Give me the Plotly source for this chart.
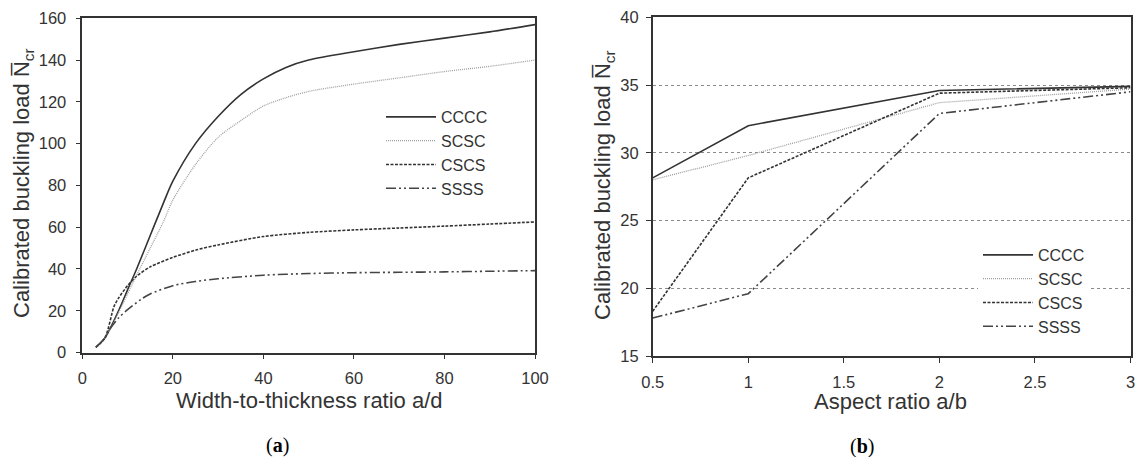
import plotly.graph_objects as go

# ---- Panel (a) data: width-to-thickness ratio a/d ----
ad_cccc = [3, 5, 8, 10, 12, 15, 18, 20, 25, 30, 35, 40, 45, 50, 60, 70, 80, 90, 100]
n_cccc = [2.5, 7, 20, 30, 40, 56, 72, 82, 100, 113, 123.5, 131, 136.5, 140, 144, 147.5, 150.5, 153.5, 157]
ad_scsc = [3, 5, 8, 10, 12, 15, 18, 20, 25, 30, 35, 40, 45, 50, 60, 70, 80, 90, 100]
n_scsc = [2.5, 7, 19, 28, 37, 50, 63, 73, 90, 103, 111, 118, 122, 125, 128.5, 131.5, 134.5, 137, 140]
ad_cscs = [3, 5, 7, 8, 10, 12, 15, 20, 25, 30, 40, 50, 60, 70, 80, 90, 100]
n_cscs = [2.5, 7, 22, 26, 32, 36.5, 41, 45.5, 49, 51.5, 55.5, 57.5, 58.7, 59.6, 60.5, 61.5, 62.5]
ad_ssss = [3, 5, 6, 8, 10, 13, 15, 20, 25, 30, 40, 50, 60, 70, 80, 90, 100]
n_ssss = [2.5, 7, 11, 16.5, 20.5, 25.5, 28, 32, 34, 35.3, 37, 37.8, 38.2, 38.4, 38.6, 38.9, 39.2]

# ---- Panel (b) data: aspect ratio a/b ----
ab = [0.5, 1, 2, 3]
b_cccc = [28.15, 32.0, 34.6, 34.9]
b_scsc = [28.0, 29.8, 33.7, 34.7]
b_cscs = [18.3, 28.15, 34.4, 34.8]
b_ssss = [17.8, 19.6, 32.9, 34.5]

names = ["CCCC", "SCSC", "CSCS", "SSSS"]
styles = {
    "CCCC": dict(color="#333333", width=1.6, dash="solid"),
    "SCSC": dict(color="#a0a0a0", width=1.3, dash="1px,1px"),
    "CSCS": dict(color="#333333", width=1.6, dash="3px,1.5px"),
    "SSSS": dict(color="#444444", width=1.6, dash="10px,3px,2px,3px,2px,3px"),
}

fig = go.Figure()
left = [(ad_cccc, n_cccc), (ad_scsc, n_scsc), (ad_cscs, n_cscs), (ad_ssss, n_ssss)]
right = [(ab, b_cccc), (ab, b_scsc), (ab, b_cscs), (ab, b_ssss)]
for nm, (x, y) in zip(names, left):
    fig.add_trace(go.Scatter(x=x, y=y, mode="lines", name=nm,
                             line=dict(shape="spline", smoothing=0.8, **styles[nm]),
                             xaxis="x", yaxis="y", legend="legend"))
for nm, (x, y) in zip(names, right):
    fig.add_trace(go.Scatter(x=x, y=y, mode="lines", name=nm, line=dict(**styles[nm]),
                             xaxis="x2", yaxis="y2", legend="legend2"))

W, H = 1137, 457
def px(v): return v / W
def py(v): return 1 - v / H

FONT = "Liberation Sans, Arial, sans-serif"
tickfont = dict(family=FONT, size=16.5, color="#333")
axcommon = dict(showline=True, linecolor="#333", linewidth=1.5, mirror=True, ticks="outside",
                ticklen=5, tickcolor="#333", tickfont=tickfont, zeroline=False)

legfont = dict(family=FONT, size=16, color="#333")
fig.update_layout(
    width=W, height=H, margin=dict(l=0, r=0, t=0, b=0, autoexpand=False),
    plot_bgcolor="white", paper_bgcolor="white",
    xaxis=dict(domain=[px(82.3), px(535)], range=[0, 100], dtick=20, anchor="y",
               showgrid=False, ticklabelstandoff=5, **axcommon),
    yaxis=dict(domain=[py(352.5), py(18.3)], range=[0, 160], dtick=20, anchor="x",
               showgrid=False, ticklabelstandoff=6, **axcommon),
    xaxis2=dict(domain=[px(652.7), px(1130.5)], range=[0.5, 3], tickvals=[0.5, 1, 1.5, 2, 2.5, 3],
                ticktext=["0.5", "1", "1.5", "2", "2.5", "3"], anchor="y2", showgrid=False,
                ticklabelstandoff=5, **axcommon),
    yaxis2=dict(domain=[py(356), py(17.3)], range=[15, 40], dtick=5, anchor="x2", showgrid=True,
                gridcolor="#8a8a8a", griddash="dot", gridwidth=1, ticklabelstandoff=4, **axcommon),
    legend=dict(x=px(381), y=py(100), xanchor="left", yanchor="top",
                bgcolor="rgba(255,255,255,0)", font=legfont, tracegroupgap=0, itemwidth=50),
    legend2=dict(x=px(978), y=py(238), xanchor="left", yanchor="top",
                 bgcolor="white", font=legfont, tracegroupgap=0, itemwidth=50),
)

titlefont = dict(family=FONT, size=22, color="#333")
ytitle = "Calibrated buckling load N\u0305<sub>cr</sub>"
ann = [
    dict(x=px(309), y=py(400), text="Width-to-thickness ratio a/d", font=titlefont),
    dict(x=px(891), y=py(401), text="Aspect ratio a/b", font=titlefont),
    dict(x=px(23), y=py(183), text=ytitle, textangle=-90, font=titlefont),
    dict(x=px(604), y=py(185), text=ytitle, textangle=-90, font=titlefont),
    dict(x=px(277), y=py(445), text="(<b>a</b>)", font=dict(family="Liberation Serif, serif", size=20, color="#000")),
    dict(x=px(862), y=py(446), text="(<b>b</b>)", font=dict(family="Liberation Serif, serif", size=20, color="#000")),
]
for a in ann:
    fig.add_annotation(xref="paper", yref="paper", showarrow=False, xanchor="center", yanchor="middle", **a)

fig.write_html("out.html")
